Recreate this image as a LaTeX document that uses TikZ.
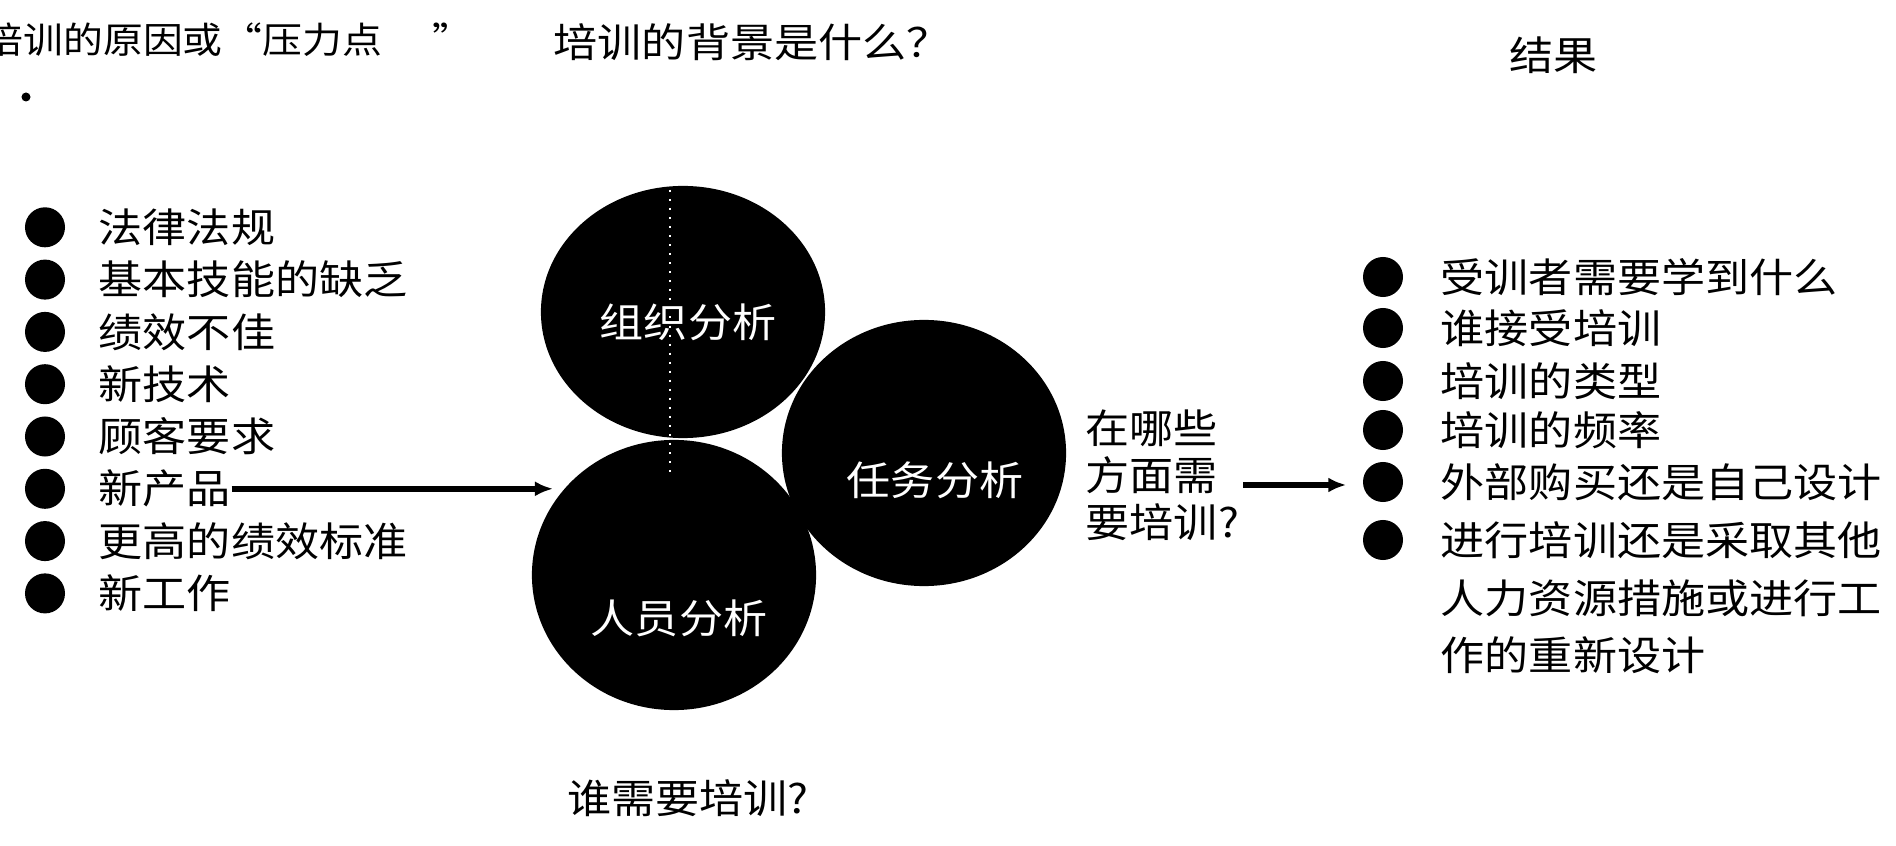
\documentclass[tikz,border=0pt]{standalone}
\usepackage{fontspec}
\setmainfont{Noto Sans CJK SC}[FakeStretch=1.1]
\usetikzlibrary{positioning,shapes.geometric,arrows.meta}

\tikzset{
  item/.style={anchor=west, inner sep=0pt, font=\fontsize{11.4pt}{16.3pt}\selectfont},
  head/.style={anchor=west, inner sep=0pt, font=\fontsize{10.3pt}{13pt}\selectfont},
  dot/.style={circle, fill=black, inner sep=0pt, minimum size=0.4cm},
  ball/.style={ellipse, fill=black, inner sep=0pt, minimum width=2.84cm, minimum height=2.66cm},
  balltext/.style={inner sep=0pt, text=white, font=\fontsize{11.4pt}{13pt}\selectfont},
  flow/.style={line width=0.065cm, -{Latex[length=0.18cm,width=0.15cm]}},
}

\begin{document}
\begin{tikzpicture}[x=0.01cm, y=-0.01cm]

		\useasboundingbox (0,0) rectangle (1896,846);

		% Headings
		\node[head] (whyhead) at (-17,40) {培训的原因或“压力点\hspace{0.5cm}”};
		\node[fill, circle, inner sep=0pt, minimum size=0.09cm] (straydot) at (26,97) {};
		\node[item] (bghead) at (553,42) {培训的背景是什么？};
		\node[item] (outhead) at (1509,55) {结果};

		% Causes
		\foreach \txt [count=\i] in {法律法规, 基本技能的缺乏, 绩效不佳, 新技术, 顾客要求, 新产品, 更高的绩效标准, 新工作} {
			\node[dot] (cause\i) at (45,{175+52.3*\i}) {};
			\node[item] (causetext\i) at (98,{175+52.3*\i}) {\txt};
		}

		% Three analyses
		\node[ball, minimum height=2.52cm] (orgball) at (683,312) {};
		\node[ball] (taskball) at (924,453) {};
		\node[ball, minimum height=2.70cm] (personball) at (674,575) {};
		\draw[white, dotted, line width=0.02cm] (670,190) -- (670,475);
		\node[balltext] (orgtext) at (688,322) {组织分析};
		\node[balltext] (tasktext) at (935,480) {任务分析};
		\node[balltext] (persontext) at (679,618) {人员分析};
		\node[item, anchor=center] (whoq) at (688,798) {谁需要培训?};

		% Where is training needed
		\node[item, align=left, font=\fontsize{11.4pt}{13.4pt}\selectfont] (whereq) at (1085,475) {在哪些\\方面需\\要培训?};

		% Results
		\foreach \txt/\y [count=\i] in {受训者需要学到什么/277, 谁接受培训/328, 培训的类型/381, 培训的频率/430, 外部购买还是自己设计/482} {
			\node[dot] (result\i) at (1383,\y) {};
			\node[item] (resulttext\i) at (1440,\y) {\txt};
		}
		\node[dot] (result6) at (1383,540) {};
		\node[item, align=left] (resulttext6) at (1440,598) {进行培训还是采取其他\\人力资源措施或进行工\\作的重新设计};

		% Arrows
		\coordinate (prodin) at (553,490);
		\coordinate (whereout) at (1243,485);
		\draw[flow] (causetext6.east) -- (causetext6.east -| prodin);
		\draw[flow, shorten >=0.16cm] (whereout) -- (whereout -| result5.west);

	\end{tikzpicture}
\end{document}
